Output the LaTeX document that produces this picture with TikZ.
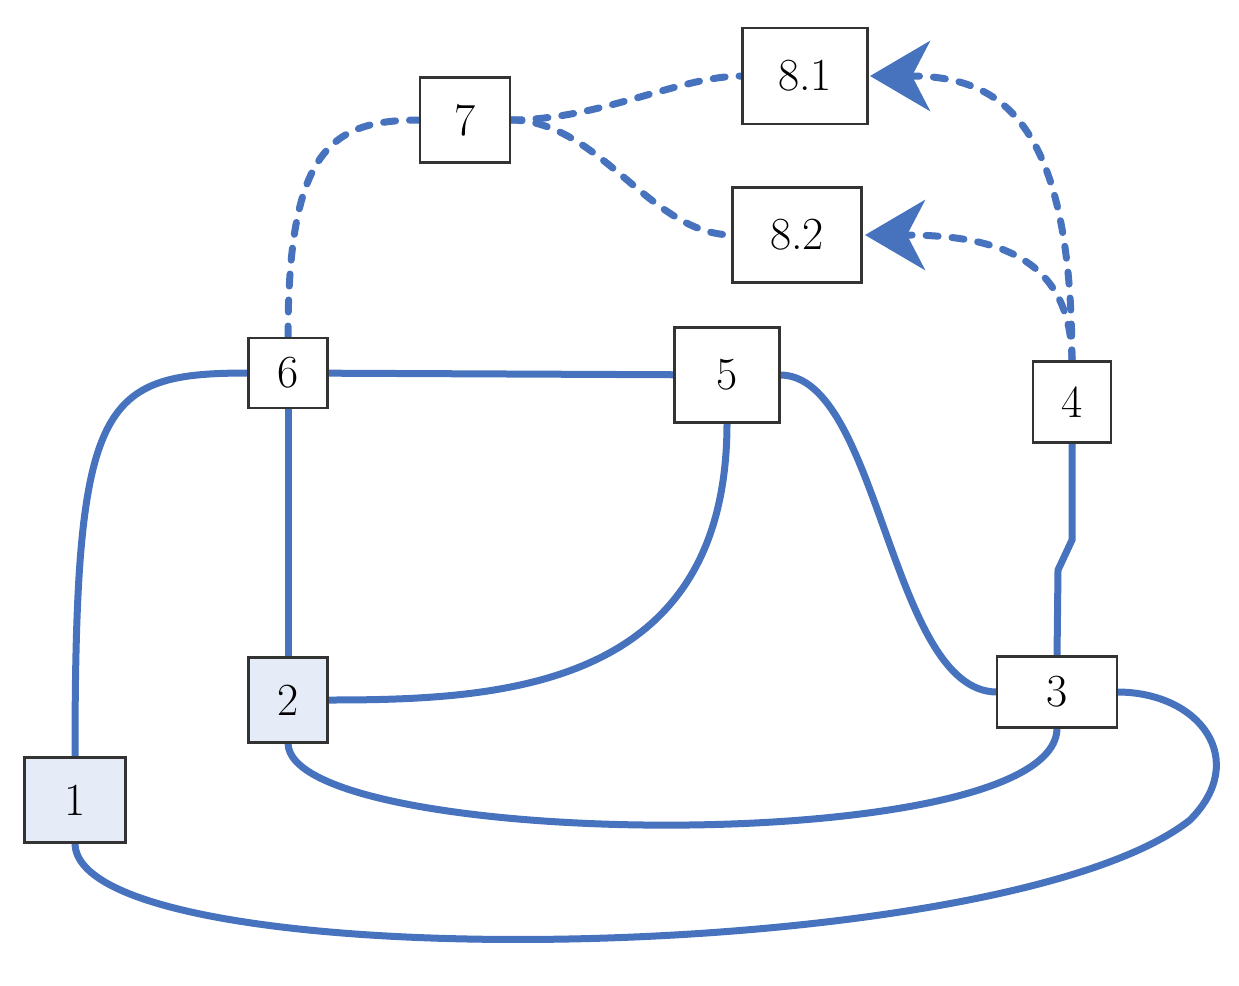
\documentclass[tikz,border=0pt]{standalone}
\usetikzlibrary{arrows.meta}
\definecolor{eb}{RGB}{70,114,190}
\definecolor{lb}{RGB}{230,236,247}
\begin{document}
\begin{tikzpicture}[x=1pt,y=-1pt,
  bx/.style={draw=black!80,line width=2.5pt,fill=white,inner sep=0pt,font=\fontsize{46}{48}\selectfont},
  sl/.style={draw=eb,line width=7pt,line cap=round},
  dl/.style={draw=eb,line width=7pt,line cap=round,dash pattern=on 12pt off 14pt},
  ar/.style={-{Stealth[length=60pt,width=70pt,inset=18pt]}}]
\useasboundingbox (0,0) rectangle (1239,985);
\path[sl] (75,758) .. controls (75,400) and (100,373) .. (249,373);
\path[sl] (288,373) -- (727,375);
\path[sl] (288,373) -- (288,700);
\path[sl] (727,423) .. controls (727,690) and (500,700) .. (328,700);
\path[sl] (780,375) .. controls (880,375) and (890,692) .. (997,692);
\path[sl] (1072,443) -- (1072,540) -- (1058,570) -- (1057,657);
\path[sl] (288,743) .. controls (288,850) and (1057,860) .. (1057,728);
\path[sl] (75,843) .. controls (75,980) and (1000,970) .. (1190,820) .. controls (1250,760) and (1200,692) .. (1117,692);
\path[dl] (288,338) .. controls (288,150) and (330,120) .. (420,120);
\path[dl] (510,120) .. controls (600,120) and (680,76) .. (742,76);
\path[dl] (510,120) .. controls (600,120) and (650,235) .. (733,235);
\path[dl,ar] (1072,362) .. controls (1072,120) and (1000,76) .. (870,76);
\path[dl,ar] (1072,362) .. controls (1072,260) and (1000,235) .. (865,235);
\node[bx,minimum width=125pt,minimum height=96pt] (n81) at (805,76) {8.1};
\node[bx,minimum width=90pt,minimum height=85pt] (n7) at (465,120) {7};
\node[bx,minimum width=129pt,minimum height=95pt] (n82) at (797,235) {8.2};
\node[bx,minimum width=79pt,minimum height=70pt] (n6) at (288,373) {6};
\node[bx,minimum width=105pt,minimum height=95pt] (n5) at (727,375) {5};
\node[bx,minimum width=78pt,minimum height=81pt] (n4) at (1072,402) {4};
\node[bx,fill=lb,minimum width=79pt,minimum height=85pt] (n2) at (288,700) {2};
\node[bx,minimum width=120pt,minimum height=71pt] (n3) at (1057,692) {3};
\node[bx,fill=lb,minimum width=101pt,minimum height=85pt] (n1) at (75,800) {1};
\end{tikzpicture}
\end{document}
